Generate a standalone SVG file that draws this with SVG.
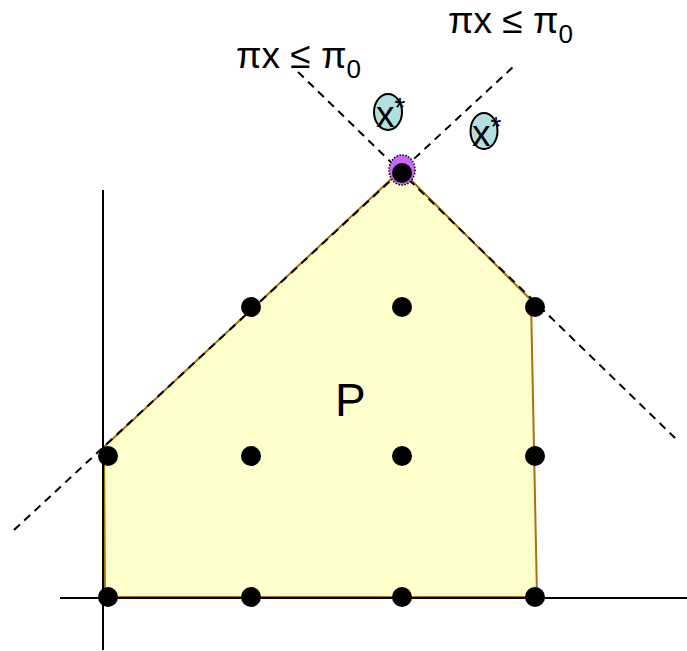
<svg xmlns="http://www.w3.org/2000/svg" width="687" height="651" viewBox="0 0 687 651">
<style>
.lbl{font-family:"Liberation Sans",Arial,sans-serif;font-size:37px;fill:#000}
.sub{font-size:26px}
.star{font-size:28px}
.dash{stroke:#000;stroke-width:2;stroke-dasharray:8 6;fill:none}
.axis{stroke:#000;stroke-width:2;fill:none}
.pt{fill:#000}
.xs{fill:#b4dfe0;stroke:#000;stroke-width:2}
</style>
<rect width="687" height="651" fill="#fff"/>
<g id="polytope">
<polygon points="104,447 401,170 531,300 537,597 105,597" fill="#ffffcc" stroke="#a8720c" stroke-width="2"/>
<text class="lbl" x="335" y="416" style="font-size:46px">P</text>
</g>
<g id="axes">
<line class="axis" x1="103" y1="190" x2="103" y2="650"/>
<line class="axis" x1="60" y1="598" x2="687" y2="598"/>
</g>
<g id="connectors">
<line class="dash" x1="298" y1="72" x2="675" y2="438"/>
<line class="dash" x1="14" y1="530" x2="513" y2="67"/>
</g>
<g id="apex">
<ellipse cx="402" cy="170" rx="13" ry="15" fill="#cc66ff" stroke="#000" stroke-width="1.5" stroke-dasharray="1.5 1.5"/>
<circle class="pt" cx="402" cy="173" r="10"/>
</g>
<g id="points">
<circle class="pt" cx="251" cy="307" r="10"/>
<circle class="pt" cx="402" cy="307" r="10"/>
<circle class="pt" cx="535" cy="307" r="10"/>
<circle class="pt" cx="108" cy="456" r="10"/>
<circle class="pt" cx="251" cy="456" r="10"/>
<circle class="pt" cx="402" cy="456" r="10"/>
<circle class="pt" cx="535" cy="456" r="10"/>
<circle class="pt" cx="108" cy="597" r="10"/>
<circle class="pt" cx="251" cy="597" r="10"/>
<circle class="pt" cx="402" cy="597" r="10"/>
<circle class="pt" cx="535" cy="597" r="10"/>
</g>
<g id="xstar1">
<ellipse class="xs" cx="388" cy="112" rx="14" ry="18"/>
<text class="lbl" x="376" y="127">x<tspan class="star" dy="-10">*</tspan></text>
</g>
<g id="xstar2">
<ellipse class="xs" cx="484" cy="131" rx="13.5" ry="18"/>
<text class="lbl" x="472" y="146">x<tspan class="star" dy="-10">*</tspan></text>
</g>
<g id="label-left">
<text class="lbl" x="236" y="68">πx ≤ π<tspan class="sub" dy="10">0</tspan></text>
</g>
<g id="label-top">
<text class="lbl" x="448" y="33">πx ≤ π<tspan class="sub" dy="10">0</tspan></text>
</g>
</svg>
